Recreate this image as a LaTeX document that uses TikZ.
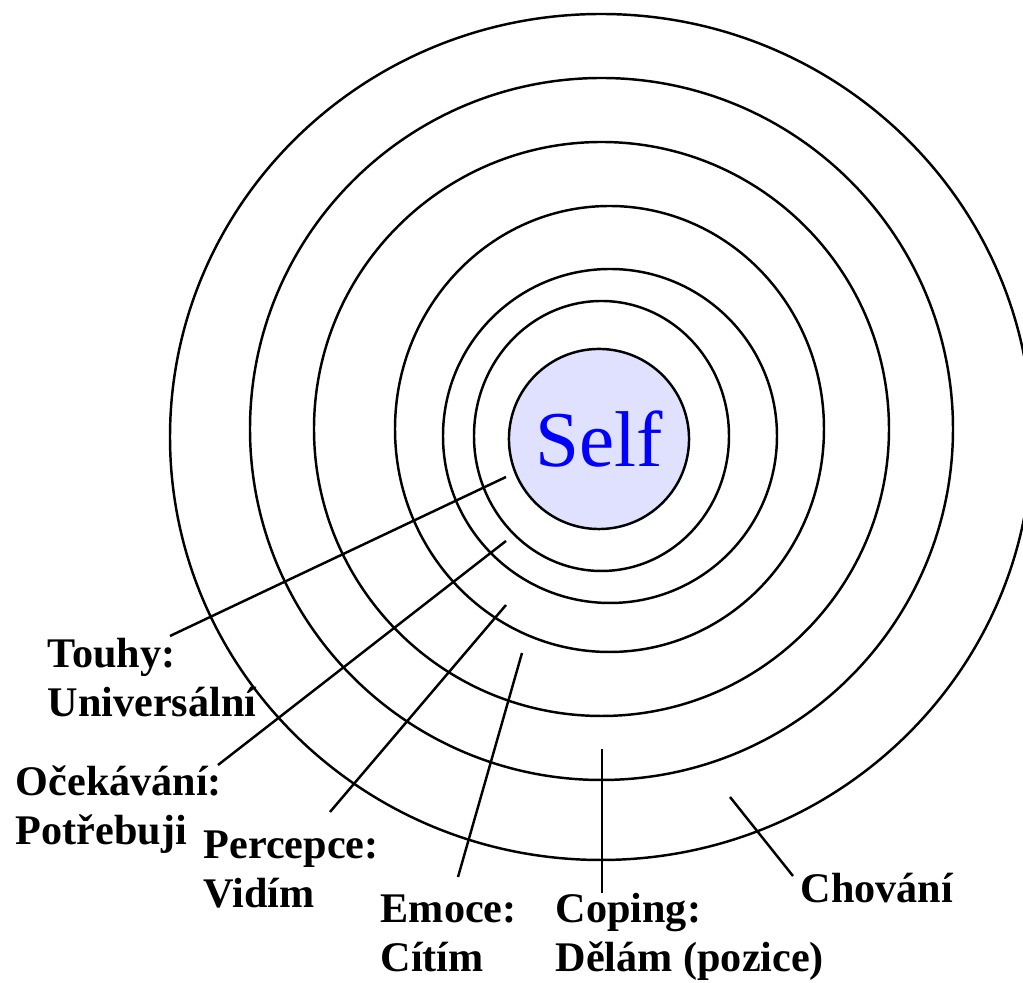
\documentclass[tikz,border=0pt]{standalone}
\usepackage{fontspec}
\setmainfont{Liberation Serif}
\usetikzlibrary{positioning}

\begin{document}
\begin{tikzpicture}[
    x=0.01cm, y=-0.01cm,
    ring/.style={draw, line width=0.7pt},
    lbl/.style={font=\fontsize{12}{14}\selectfont\bfseries, align=left,
                anchor=base west, inner sep=0pt},
    leader/.style={line width=0.7pt},
]
    \useasboundingbox (0,0) rectangle (1023,983);

    % rings, outermost first
    \foreach \cx/\cy/\rx/\ry in {601/437/431/423, 601.5/429/351.5/351, 601.5/429/287.5/287,
                                 609.5/429/214.5/223, 610/436/167/167, 601.5/436/127.5/135}
        \draw[ring] (\cx,\cy) ellipse [x radius=\rx, y radius=\ry];

    \node[circle, draw, line width=0.7pt, fill=blue!12, minimum size=1.8cm, inner sep=0pt,
          text=blue, font=\fontsize{22.5}{27}\selectfont] (self) at (599,439) {Self};

    % labels (base = last line)
    \node[lbl] (touhy) at (47,717) {Touhy:\\Universální};
    \node[lbl] (ocekavani) at (15,845) {Očekávání:\\Potřebuji};
    \node[lbl] (percepce) at (203,908) {Percepce:\\Vidím};
    \node[lbl] (emoce) at (380,972) {Emoce:\\Cítím};
    \node[lbl] (coping) at (555,972) {Coping:\\Dělám (pozice)};
    \node[lbl] (chovani) at (800,903) {Chování};

    \coordinate (t1) at (170,636);  \coordinate (t2) at (506,477);
    \coordinate (o1) at (218,765);  \coordinate (o2) at (506,541);
    \coordinate (p1) at (330,812);  \coordinate (p2) at (506,605);
    \coordinate (e1) at (458,877);  \coordinate (e2) at (522,653);
    \coordinate (c1) at (602,893);  \coordinate (c2) at (602,749);
    \coordinate (h1) at (793,876);  \coordinate (h2) at (730,797);

    \foreach \a/\b in {t1/t2, o1/o2, p1/p2, e1/e2, c1/c2, h1/h2}
        \draw[leader] (\a) -- (\b);
\end{tikzpicture}
\end{document}
